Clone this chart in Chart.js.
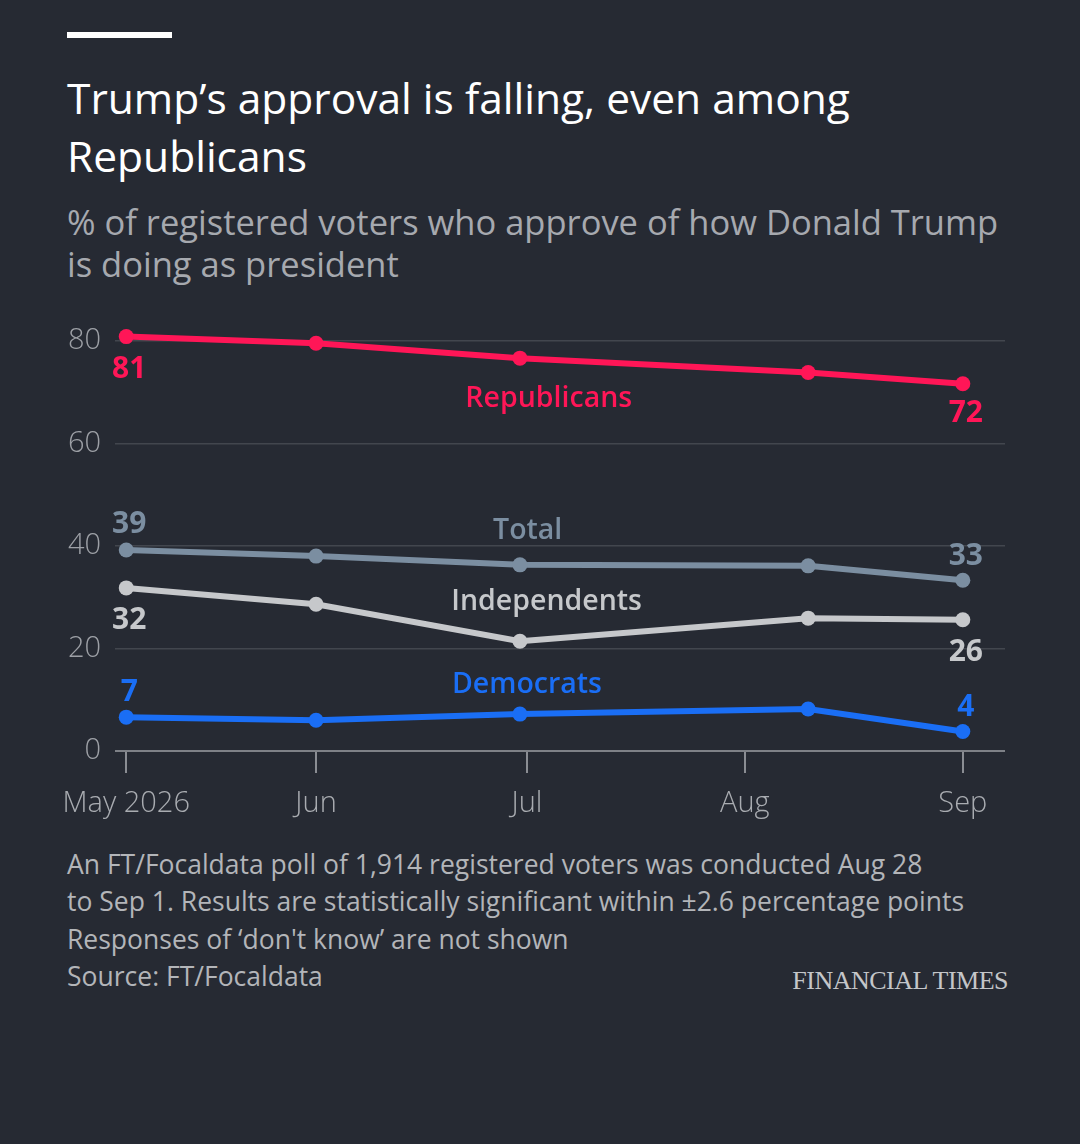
<!DOCTYPE html>
<html><head><meta charset="utf-8">
<script src="https://cdn.jsdelivr.net/npm/chart.js@4"></script>
<style>
html,body{margin:0;padding:0;background:#262a33;}
body{width:1080px;height:1144px;position:relative;overflow:hidden;font-family:"Open Sans","Noto Sans",sans-serif;}
.bar{position:absolute;left:67px;top:32px;width:105px;height:6px;background:#ffffff;}
.title{position:absolute;left:67px;top:69px;font-size:42.5px;line-height:58px;color:#ffffff;width:1000px;white-space:nowrap;}
.sub{position:absolute;left:67px;top:201px;font-size:34.5px;line-height:42px;color:#a6a9af;width:1010px;white-space:nowrap;}
.notes{position:absolute;left:67px;top:846px;font-size:26.5px;line-height:37.3px;color:#b3b5b9;white-space:nowrap;}
.ft{position:absolute;right:72px;top:966px;font-family:"Liberation Serif","DejaVu Serif",serif;font-size:26px;line-height:30px;color:#c4c6c9;letter-spacing:-0.5px;}
#wrap{position:absolute;left:0;top:300px;width:1080px;height:540px;}
</style>
</head><body>
<div class="bar"></div>
<div class="title">Trump’s approval is falling, even among<br>Republicans</div>
<div class="sub">% of registered voters who approve of how Donald Trump<br>is doing as president</div>
<div id="wrap"><canvas id="c"></canvas></div>
<div class="notes">An FT/Focaldata poll of 1,914 registered voters was conducted Aug 28<br>to Sep 1. Results are statistically significant within ±2.6 percentage points<br>Responses of ‘don't know’ are not shown<br>Source: FT/Focaldata</div>
<div class="ft">FINANCIAL TIMES</div>
<script>
// ---- data ----
const pollDates = ['2026-05-05','2026-06-01','2026-06-30','2026-08-10','2026-09-01'];
const tickDates = ['2026-05-05','2026-06-01','2026-07-01','2026-08-01','2026-09-01'];
const tickLabels = ['May 2026','Jun','Jul','Aug','Sep'];
const yTicks = [0,20,40,60,80];
const seriesNames = ['Republicans','Total','Independents','Democrats'];
const republicans = [80.8, 79.5, 76.6, 73.8, 71.6];
const total = [39.2, 38.0, 36.3, 36.1, 33.3];
const independents = [31.8, 28.6, 21.4, 25.9, 25.6];
const democrats = [6.6, 6.0, 7.2, 8.2, 3.8];

// ---- styling ----
const FONT = '"Open Sans"';
const colors = ['#ff1657','#7b8ea1','#c6c8cb','#1a6ef5'];
const origin = Date.parse('2026-05-01');
const day = s => (Date.parse(s) - origin) / 86400000;
// name label anchors in data units (day, value)
const nameAnchors = [[64.1,69.2],[61.1,43.5],[63.8,29.6],[61.0,13.4]];
// end label offsets (px, +down) for first and last points
const firstOff = [33,-25,33,-25];
const lastOff = [30,-24,33,-24];
const nameDy = 3;

const seriesVals = [republicans, total, independents, democrats];

const labelPlugin = {
  id:'labels',
  afterDatasetsDraw(chart){
    const {ctx, scales:{x,y}} = chart;
    ctx.save();
    ctx.textAlign='center';
    ctx.textBaseline='middle';
    seriesVals.forEach((vals,i)=>{
      ctx.fillStyle = colors[i];
      ctx.font = '700 30px ' + FONT;
      const n = vals.length-1;
      ctx.fillText(String(Math.round(vals[0])), x.getPixelForValue(day(pollDates[0]))+3, y.getPixelForValue(vals[0])+firstOff[i]);
      ctx.fillText(String(Math.round(vals[n])), x.getPixelForValue(day(pollDates[n]))+3, y.getPixelForValue(vals[n])+lastOff[i]);
      ctx.font = '600 28.5px ' + FONT;
      ctx.fillText(seriesNames[i], x.getPixelForValue(nameAnchors[i][0]), y.getPixelForValue(nameAnchors[i][1])+nameDy);
    });
    ctx.restore();
  }
};

function make(){
  new Chart(document.getElementById('c'), {
    type:'line',
    data:{
      datasets: seriesVals.map((vals,i)=>({
        label: seriesNames[i],
        data: pollDates.map((d,j)=>({x:day(d), y:vals[j]})),
        borderColor: colors[i],
        backgroundColor: colors[i],
        borderWidth: 6,
        pointRadius: 7.5,
        pointHoverRadius: 7.5,
        pointBorderWidth: 0,
        tension: 0,
        clip: false
      })).reverse()
    },
    options:{
      responsive:true,
      maintainAspectRatio:false,
      animation:false,
      events:[],
      layout:{padding:{top:40.7,right:75,bottom:0,left:0}},
      plugins:{legend:{display:false},tooltip:{enabled:false}},
      scales:{
        x:{
          type:'linear',
          min:2.4, max:129,
          afterBuildTicks(s){ s.ticks = tickDates.map(d=>({value:day(d)})); },
          afterFit(s){ s.height = 89; },
          grid:{drawOnChartArea:false, drawTicks:true, tickLength:22, color:'#8a8d93', lineWidth:2},
          border:{display:false},
          ticks:{
            callback:(v,i)=>tickLabels[i],
            color:'#a9acb1', font:{family:'Open Sans', size:29, weight:'300'}, padding:13,
            maxRotation:0, autoSkip:false
          }
        },
        y:{
          min:0, max:80,
          afterBuildTicks(s){ s.ticks = yTicks.map(v=>({value:v})); },
          afterFit(s){ s.width = 115; },
          grid:{drawTicks:false, color:c=>(c.tick && c.tick.value===0)?'#7e8187':'#42464e', lineWidth:c=>(c.tick && c.tick.value===0)?2:1.5},
          border:{display:false},
          ticks:{color:'#9da0a6', font:{family:'Open Sans', size:29, weight:'300'}, padding:14}
        }
      }
    },
    plugins:[labelPlugin]
  });
}
if (document.fonts && document.fonts.load) {
  Promise.all([document.fonts.load('27px "Open Sans"'),document.fonts.load('700 30px "Open Sans"'),document.fonts.load('600 28.5px "Open Sans"'),document.fonts.load('300 29px "Open Sans"')]).then(make, make);
} else make();
</script>
</body></html>
